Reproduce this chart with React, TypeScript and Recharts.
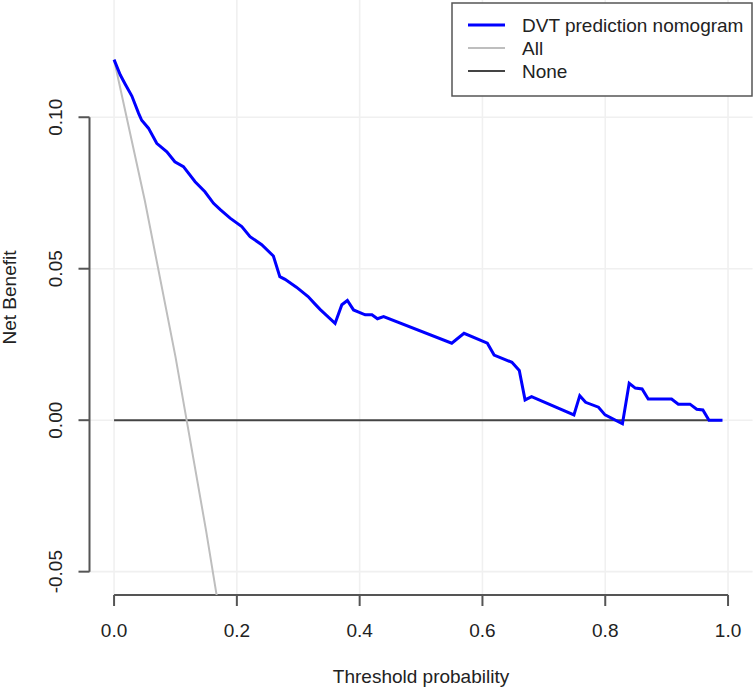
import React from "react";
import { LineChart, Line, XAxis, YAxis, CartesianGrid, ReferenceLine } from "recharts";

const xTicks = [0, 0.2, 0.4, 0.6, 0.8, 1.0];
const yTicks = [-0.05, 0, 0.05, 0.1];

const modelT = [0, 0.01, 0.018, 0.029, 0.04, 0.045, 0.056, 0.0695, 0.086, 0.099, 0.113, 0.132, 0.148, 0.162, 0.173, 0.189, 0.208, 0.2215, 0.2405, 0.2595, 0.27, 0.2785, 0.297, 0.316, 0.327, 0.3355, 0.36, 0.371, 0.38, 0.39, 0.409, 0.42, 0.429, 0.439, 0.55, 0.57, 0.608, 0.619, 0.648, 0.66, 0.6694, 0.68, 0.749, 0.7585, 0.768, 0.789, 0.7997, 0.828, 0.839, 0.849, 0.86, 0.87, 0.908, 0.919, 0.938, 0.949, 0.959, 0.969, 0.991];
const modelNB = [0.119, 0.114, 0.111, 0.107, 0.1013, 0.099, 0.0964, 0.0914, 0.0886, 0.0853, 0.0837, 0.0787, 0.0754, 0.0716, 0.0695, 0.0667, 0.0639, 0.0606, 0.0579, 0.0542, 0.0474, 0.0465, 0.0439, 0.0408, 0.0384, 0.0366, 0.032, 0.0381, 0.0395, 0.0364, 0.0348, 0.0348, 0.0335, 0.0342, 0.0254, 0.0287, 0.0254, 0.0215, 0.0191, 0.0164, 0.0067, 0.0078, 0.00175, 0.0081, 0.0059, 0.0043, 0.00175, -0.0012, 0.0122, 0.0106, 0.0103, 0.007, 0.007, 0.0053, 0.0053, 0.0036, 0.0034, 0, 0];

const allT = [0, 0.05, 0.1, 0.15, 0.17];
const allNB = [0.119, 0.0726, 0.021, -0.0366, -0.0614];

const noneT = [0, 0.99];
const noneNB = [0, 0];

const modelData = modelT.map((t, i) => ({ t, v: modelNB[i] }));
const allData = allT.map((t, i) => ({ t, v: allNB[i] }));
const noneData = noneT.map((t, i) => ({ t, v: noneNB[i] }));

const Y_MIN = -0.0577;
const Y_MAX = 0.1387;
const FONT = "'Liberation Sans', Arial, sans-serif";
const FS = 19;
const AXIS = "#555";

const YTick = (props: any) => {
  const { x, y, payload } = props;
  return (
    <text x={x} y={y} transform={`rotate(-90, ${x}, ${y})`} textAnchor="middle" fontFamily={FONT} fontSize={FS} fill="#222">
      {Number(payload.value).toFixed(2)}
    </text>
  );
};

const XTick = (props: any) => {
  const { x, y, payload } = props;
  return (
    <text x={x} y={y} textAnchor="middle" fontFamily={FONT} fontSize={FS} fill="#222">
      {Number(payload.value).toFixed(1)}
    </text>
  );
};

const legendItems = [
  { label: "DVT prediction nomogram", color: "#0000ff", w: 3 },
  { label: "All", color: "#bebebe", w: 2 },
  { label: "None", color: "#444", w: 2 },
];

export default function App() {
  return (
    <div style={{ position: "absolute", left: 0, top: 0, width: 756, height: 690, background: "#fff" }}>
      <LineChart width={756} height={690} margin={{ top: 0, right: 3.4, bottom: 0, left: 0 }}>
        <CartesianGrid stroke="#f0f0f0" strokeWidth={1.6} horizontalValues={yTicks} verticalValues={xTicks} />
        <XAxis
          type="number"
          dataKey="t"
          domain={[-0.04, 1.04]}
          ticks={xTicks}
          allowDataOverflow
          axisLine={false}
          tickLine={{ stroke: AXIS, strokeWidth: 2 }}
          tickSize={11}
          tickMargin={31}
          height={95}
          tick={<XTick />}
          interval={0}
        />
        <YAxis
          type="number"
          dataKey="v"
          domain={[Y_MIN, Y_MAX]}
          ticks={yTicks}
          allowDataOverflow
          axisLine={false}
          tickLine={{ stroke: AXIS, strokeWidth: 2 }}
          tickSize={11}
          tickMargin={16}
          width={89.5}
          tick={<YTick />}
          interval={0}
        />
        <ReferenceLine
          segment={[{ x: -0.04, y: -0.05 }, { x: -0.04, y: 0.1 }]}
          stroke={AXIS}
          strokeWidth={2}
          ifOverflow="visible"
        />
        <ReferenceLine
          segment={[{ x: 0, y: Y_MIN }, { x: 1, y: Y_MIN }]}
          stroke={AXIS}
          strokeWidth={2}
          ifOverflow="visible"
        />
        <Line data={noneData} dataKey="v" type="linear" stroke="#444" strokeWidth={2} dot={false} isAnimationActive={false} />
        <Line data={allData} dataKey="v" type="linear" stroke="#bebebe" strokeWidth={2} dot={false} isAnimationActive={false} />
        <Line data={modelData} dataKey="v" type="linear" stroke="#0000ff" strokeWidth={3} dot={false} isAnimationActive={false} />
      </LineChart>
      <svg style={{ position: "absolute", left: 0, top: 0, pointerEvents: "none" }} width={756} height={690}>
        <text x={421} y={683} textAnchor="middle" fontFamily={FONT} fontSize={FS} fill="#222">
          Threshold probability
        </text>
        <text x={16} y={297.5} transform="rotate(-90, 16, 297.5)" textAnchor="middle" fontFamily={FONT} fontSize={FS} fill="#222">
          Net Benefit
        </text>
        <rect x={452} y={3} width={300} height={93} fill="#fff" stroke={AXIS} strokeWidth={1.5} />
        {legendItems.map((it, i) => (
          <g key={it.label}>
            <line x1={468} x2={505} y1={25 + i * 23} y2={25 + i * 23} stroke={it.color} strokeWidth={it.w} />
            <text x={522} y={25 + i * 23 + 6.5} fontFamily={FONT} fontSize={FS} fill="#222">
              {it.label}
            </text>
          </g>
        ))}
      </svg>
    </div>
  );
}
